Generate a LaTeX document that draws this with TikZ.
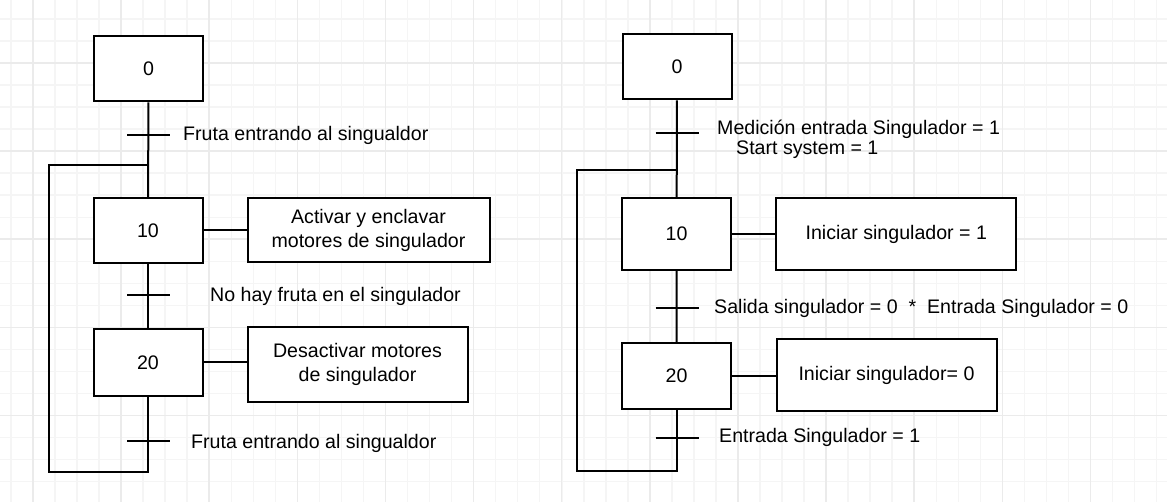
\documentclass[tikz,border=0pt]{standalone}
\usepackage{fontspec}
\setmainfont{Liberation Sans}
\usepackage{tikz}

\begin{document}
\begin{tikzpicture}[x=1pt, y=-1pt,
		every node/.style={font=\fontsize{19.6}{23.5}\selectfont},
		minorgrid/.style={draw=black!4, line width=1.5pt},
		majorgrid/.style={draw=black!8, line width=1.5pt},
		stepbox/.style={rectangle, draw, line width=2pt, fill=white, minimum width=109pt, minimum height=65pt},
		actbox/.style={rectangle, draw, line width=2pt, fill=white, align=center},
		link/.style={line width=2pt},
		cond/.style={anchor=west, align=left, inner sep=0pt}]
			\useasboundingbox (0,0) rectangle (1167,502);
			\fill[white] (0,0) rectangle (1167,502);

			% Grid
			\foreach \i in {0,...,52}
				\draw[minorgrid] ({11+22.03*\i},0) -- ({11+22.03*\i},502);
			\foreach \i in {0,...,21}
				\draw[minorgrid] (0,{19+22.03*\i}) -- (1167,{19+22.03*\i});
			\foreach \i in {0,...,12}
				\draw[majorgrid] ({33+88.12*\i},0) -- ({33+88.12*\i},502);
			\foreach \i in {0,...,4}
				\draw[majorgrid] (0,{63+88.12*\i}) -- (1167,{63+88.12*\i});

			% Left chart: nodes
			\node[stepbox] (s0L) at (148.5,69) {0};
			\node[stepbox] (s10L) at (148,230.5) {10};
			\node[stepbox, minimum height=66pt] (s20L) at (148,362.5) {20};
			\node[actbox, minimum width=242pt, minimum height=64pt] (a10L) at (368.5,230.5) {Activar y enclavar\\motores de singulador};
			\node[actbox, minimum width=220pt, minimum height=74pt] (a20L) at (357.5,364.5) {Desactivar motores\\de singulador};
			\coordinate (t1L) at (148.5,135);
			\coordinate (t2L) at (148.5,295.5);
			\coordinate (t3L) at (148.5,441);
			\coordinate (jL) at (148,165);
			\coordinate (bL) at (49,472);

			% Left chart: edges
			\draw[link] (s0L) -- (s10L);
			\draw[link] (s10L) -- (s20L);
			\draw[link] (s20L.south) |- (bL) |- (jL);
			\draw[link] (s10L.east) -- (a10L.west |- s10L.east);
			\draw[link] (s20L.east) -- (a20L.west |- s20L.east);
			\foreach \t in {t1L,t2L,t3L}
				\draw[link] (\t) ++(-21.5,0) -- ++(43,0);

			% Left chart: conditions
			\node[cond] (c1L) at (183,135) {Fruta entrando al singualdor};
			\node[cond] (c2L) at (210,296) {No hay fruta en el singulador};
			\node[cond] (c3L) at (191,443) {Fruta entrando al singualdor};

			% Right chart: nodes
			\node[stepbox] (s0R) at (677,67) {0};
			\node[stepbox, minimum height=72pt] (s10R) at (676.6,234) {10};
			\node[stepbox] (s20R) at (676.5,376) {20};
			\node[actbox, minimum width=240pt, minimum height=72pt] (a10R) at (896.3,234) {Iniciar singulador = 1};
			\node[actbox, minimum width=220pt, minimum height=72pt] (a20R) at (886.5,375) {Iniciar singulador= 0};
			\coordinate (t1R) at (677,133);
			\coordinate (t2R) at (677,308);
			\coordinate (t3R) at (677,438);
			\coordinate (jR) at (677,170);
			\coordinate (bR) at (577,471);

			% Right chart: edges
			\draw[link] (s0R) -- (s10R);
			\draw[link] (s10R) -- (s20R);
			\draw[link] (s20R.south) |- (bR) |- (jR);
			\draw[link] (s10R.east) -- (a10R.west |- s10R.east);
			\draw[link] (s20R.east) -- (a20R.west |- s20R.east);
			\foreach \t in {t1R,t2R,t3R}
				\draw[link] (\t) ++(-21.5,0) -- ++(43,0);

			% Right chart: conditions
			\node[cond, font=\fontsize{19.6}{20}\selectfont] (c1R) at (717,139) {Medición entrada Singulador = 1\\\hspace*{19pt}Start system = 1};
			\node[cond] (c2R) at (714,308) {Salida singulador = 0 \ * \ Entrada Singulador = 0};
			\node[cond] (c3R) at (719,437) {Entrada Singulador = 1};
		\end{tikzpicture}
\end{document}
